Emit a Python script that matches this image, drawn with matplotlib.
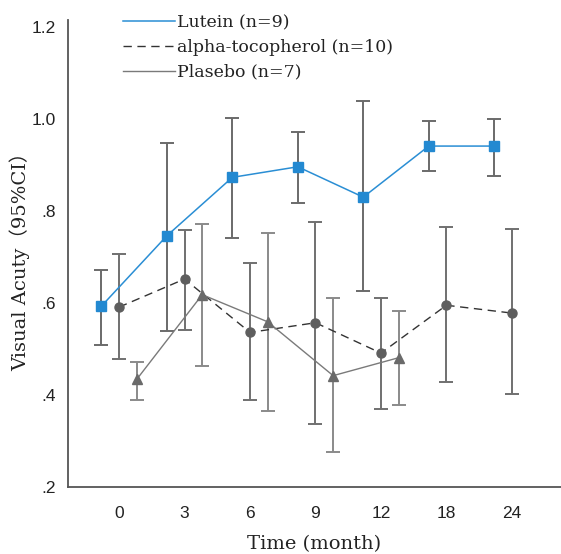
from matplotlib import pyplot as plt
import numpy as np

months = ['0', '3', '6', '9', '12', '18', '24']

lutein = [0.593, 0.746, 0.873, 0.896, 0.830, 0.941, 0.941]
lutein_lo = [0.508, 0.538, 0.741, 0.818, 0.627, 0.886, 0.877]
lutein_hi = [0.671, 0.947, 1.002, 0.972, 1.038, 0.996, 1.000]

alpha = [0.591, 0.652, 0.536, 0.557, 0.491, 0.595, 0.578]
alpha_lo = [0.478, 0.542, 0.389, 0.336, 0.370, 0.428, 0.402]
alpha_hi = [0.707, 0.758, 0.686, 0.777, 0.610, 0.765, 0.760]

plasebo = [0.434, 0.618, 0.559, 0.442, 0.481]
plasebo_lo = [0.389, 0.464, 0.366, 0.275, 0.379]
plasebo_hi = [0.472, 0.771, 0.752, 0.610, 0.582]

serif = 'DejaVu Serif'

fig = plt.figure(figsize=(5.61, 5.54), dpi=100)
ax = fig.add_axes([68/561, 1-487/554, 493/561, 467/554])

x = np.arange(len(months))

def draw(xpos, y, lo, hi, color, marker, ms, ls, lc, lw, label, ecolor):
    y = np.array(y)
    yerr = [y - np.array(lo), np.array(hi) - y]
    ax.errorbar(xpos, y, yerr=yerr, fmt='none', ecolor=ecolor, elinewidth=1.4,
                capsize=5, capthick=1.4, zorder=1)
    ax.plot(xpos, y, linestyle=ls, color=lc, lw=lw, label=label, zorder=2)
    ax.plot(xpos, y, linestyle='none', marker=marker, ms=ms, color=color, zorder=3)

draw(x - 0.27, lutein, lutein_lo, lutein_hi, '#2389d1', 's', 6.5, '-', '#2a8ed4', 1.1,
     'Lutein (n=9)', '#6a6a6a')
draw(x, alpha, alpha_lo, alpha_hi, '#5e5e5e', 'o', 6.5, (0, (6, 4)), '#333333', 1.0,
     'alpha-tocopherol (n=10)', '#707070')
draw(x[:len(plasebo)] + 0.27, plasebo, plasebo_lo, plasebo_hi, '#6a6a6a', '^', 6.5, '-',
     '#7a7a7a', 1.0, 'Plasebo (n=7)', '#8a8a8a')

ax.set_xlim(-0.78, 6.75)
ax.set_ylim(0.2, 1.215)
ax.set_yticks([0.2, 0.4, 0.6, 0.8, 1.0, 1.2])
ax.set_yticklabels(['.2', '.4', '.6', '.8', '1.0', '1.2'])
ax.set_xticks(x)
ax.set_xticklabels(months)
ax.tick_params(length=0, labelsize=12.5, colors='#222222')
ax.tick_params(axis='x', pad=14)
ax.tick_params(axis='y', pad=9)
for lab in ax.get_xticklabels() + ax.get_yticklabels():
    lab.set_family('Liberation Sans')

for s in ['top', 'right']:
    ax.spines[s].set_visible(False)
for s in ['left', 'bottom']:
    ax.spines[s].set_color('#555555')
    ax.spines[s].set_linewidth(1.3)

ax.set_xlabel('Time (month)', family=serif, fontsize=14, color='#222222')
ax.xaxis.set_label_coords(0.5, -(535 - 487) / 467)
ax.set_ylabel('Visual Acuty\uff0895%CI\uff09', family=[serif, 'Noto Sans CJK SC'],
              fontsize=14, color='#222222')
ax.yaxis.set_label_coords(-(68 - 30) / 493, (487 - 257) / 467)

leg = ax.legend(loc='upper left', bbox_to_anchor=(123/561, 1-14/554),
                bbox_transform=fig.transFigure, frameon=False, fontsize=12.5,
                handlelength=3.0, handletextpad=0.1, labelspacing=0.45,
                borderpad=0, borderaxespad=0)
for t in leg.get_texts():
    t.set_family(serif)
    t.set_color('#222222')

fig.savefig('out.png', dpi=100)
